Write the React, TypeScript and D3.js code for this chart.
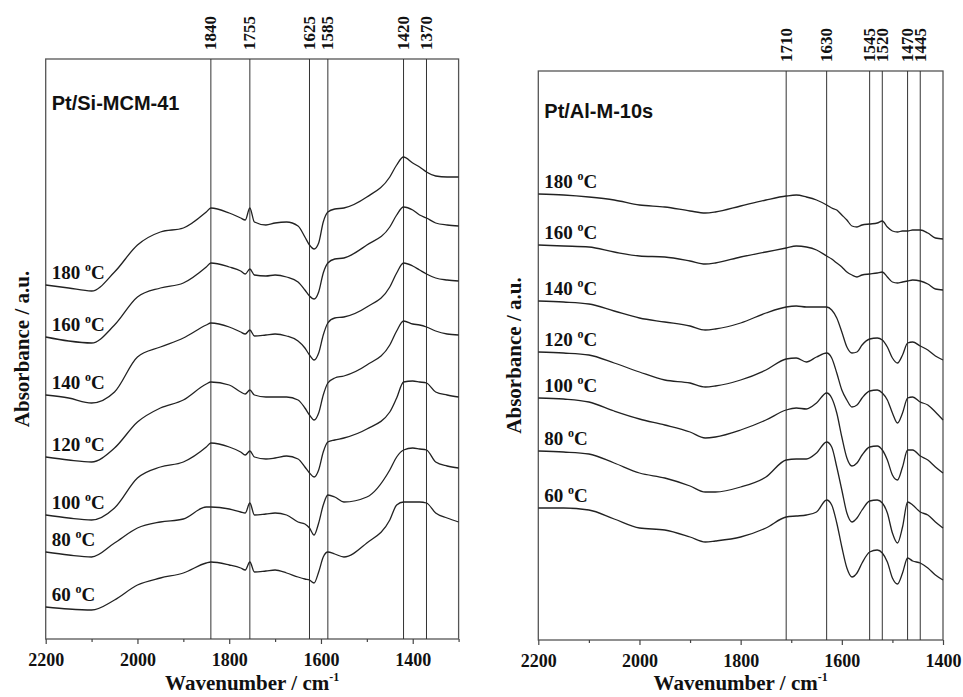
import * as d3 from "d3";
import { useRef, useEffect } from "react";

// Pt/Si-MCM-41 panel
const siWavenumbers = [2200, 2150, 2100, 2050, 2000, 1950, 1900, 1850, 1840, 1800, 1775, 1765, 1755, 1745, 1720, 1700, 1675, 1650, 1635, 1625, 1615, 1605, 1595, 1585, 1570, 1550, 1500, 1450, 1435, 1420, 1400, 1385, 1370, 1350, 1325, 1300];
const si180 = [3.54, 3.51, 3.48, 3.67, 3.94, 4.07, 4.11, 4.27, 4.31, 4.26, 4.21, 4.19, 4.31, 4.17, 4.14, 4.16, 4.17, 4.13, 4.02, 3.94, 3.90, 3.96, 4.17, 4.27, 4.30, 4.31, 4.42, 4.62, 4.74, 4.82, 4.76, 4.72, 4.67, 4.63, 4.62, 4.62];
const si160 = [3.02, 2.98, 2.96, 3.14, 3.42, 3.51, 3.56, 3.72, 3.76, 3.72, 3.68, 3.65, 3.70, 3.64, 3.63, 3.64, 3.62, 3.57, 3.49, 3.43, 3.40, 3.47, 3.66, 3.76, 3.80, 3.81, 3.94, 4.12, 4.24, 4.32, 4.29, 4.24, 4.21, 4.16, 4.14, 4.13];
const si140 = [2.44, 2.41, 2.36, 2.47, 2.82, 2.92, 3.01, 3.14, 3.16, 3.12, 3.07, 3.05, 3.09, 3.03, 3.04, 3.05, 3.03, 2.98, 2.91, 2.84, 2.79, 2.86, 3.04, 3.16, 3.21, 3.22, 3.32, 3.52, 3.66, 3.76, 3.73, 3.69, 3.65, 3.61, 3.59, 3.58];
const si120 = [1.82, 1.79, 1.77, 1.91, 2.17, 2.31, 2.39, 2.55, 2.57, 2.54, 2.47, 2.45, 2.49, 2.44, 2.42, 2.42, 2.42, 2.39, 2.31, 2.24, 2.19, 2.26, 2.44, 2.56, 2.61, 2.63, 2.74, 2.94, 3.08, 3.18, 3.15, 3.14, 3.12, 3.08, 3.05, 3.04];
const si100 = [1.24, 1.21, 1.19, 1.31, 1.61, 1.72, 1.77, 1.92, 1.96, 1.92, 1.87, 1.84, 1.88, 1.82, 1.80, 1.81, 1.83, 1.80, 1.72, 1.66, 1.62, 1.69, 1.87, 1.97, 1.99, 2.01, 2.10, 2.27, 2.41, 2.57, 2.58, 2.57, 2.56, 2.47, 2.44, 2.42];
const si80 = [0.87, 0.84, 0.82, 0.96, 1.11, 1.17, 1.20, 1.32, 1.32, 1.30, 1.27, 1.26, 1.36, 1.24, 1.25, 1.26, 1.24, 1.17, 1.15, 1.11, 1.04, 1.16, 1.34, 1.44, 1.42, 1.37, 1.42, 1.69, 1.82, 1.89, 1.91, 1.90, 1.89, 1.77, 1.73, 1.71];
const si60 = [0.32, 0.30, 0.29, 0.39, 0.54, 0.61, 0.66, 0.76, 0.77, 0.74, 0.71, 0.69, 0.77, 0.67, 0.68, 0.69, 0.66, 0.62, 0.60, 0.59, 0.56, 0.67, 0.82, 0.87, 0.85, 0.82, 0.96, 1.19, 1.34, 1.37, 1.37, 1.37, 1.36, 1.26, 1.21, 1.17];
const siPeaks = [1840, 1755, 1625, 1585, 1420, 1370];

// Pt/Al-M-10s panel
const alWavenumbers = [2200, 2150, 2100, 2050, 2000, 1950, 1900, 1870, 1850, 1800, 1750, 1710, 1690, 1670, 1650, 1630, 1620, 1610, 1600, 1590, 1580, 1570, 1560, 1545, 1530, 1520, 1510, 1500, 1490, 1480, 1470, 1460, 1445, 1430, 1415, 1400];
const al180 = [4.46, 4.45, 4.43, 4.40, 4.35, 4.33, 4.29, 4.27, 4.28, 4.34, 4.40, 4.44, 4.45, 4.43, 4.40, 4.35, 4.32, 4.30, 4.25, 4.20, 4.14, 4.13, 4.15, 4.16, 4.17, 4.19, 4.13, 4.09, 4.08, 4.09, 4.09, 4.10, 4.10, 4.07, 4.02, 4.01];
const al160 = [3.95, 3.94, 3.93, 3.88, 3.84, 3.83, 3.79, 3.76, 3.77, 3.83, 3.88, 3.92, 3.94, 3.93, 3.90, 3.84, 3.81, 3.77, 3.73, 3.68, 3.65, 3.63, 3.65, 3.66, 3.67, 3.68, 3.63, 3.58, 3.57, 3.58, 3.59, 3.60, 3.59, 3.56, 3.51, 3.50];
const al140 = [3.39, 3.38, 3.36, 3.29, 3.22, 3.18, 3.14, 3.10, 3.11, 3.17, 3.27, 3.33, 3.34, 3.33, 3.33, 3.33, 3.30, 3.22, 3.08, 2.93, 2.87, 2.88, 2.95, 3.01, 3.02, 3.00, 2.93, 2.82, 2.77, 2.85, 2.97, 2.98, 2.94, 2.90, 2.84, 2.80];
const al120 = [2.88, 2.87, 2.85, 2.77, 2.68, 2.60, 2.57, 2.53, 2.54, 2.60, 2.70, 2.81, 2.82, 2.78, 2.83, 2.87, 2.82, 2.67, 2.50, 2.40, 2.33, 2.35, 2.42, 2.49, 2.50, 2.47, 2.40, 2.27, 2.17, 2.27, 2.42, 2.43, 2.38, 2.35, 2.28, 2.20];
const al100 = [2.42, 2.41, 2.38, 2.29, 2.21, 2.15, 2.08, 2.02, 2.03, 2.10, 2.20, 2.30, 2.32, 2.31, 2.37, 2.47, 2.42, 2.27, 2.03, 1.82, 1.74, 1.77, 1.85, 1.93, 1.94, 1.90, 1.80, 1.65, 1.60, 1.73, 1.90, 1.90, 1.84, 1.80, 1.73, 1.67];
const al80 = [1.89, 1.88, 1.86, 1.77, 1.67, 1.62, 1.54, 1.48, 1.48, 1.53, 1.63, 1.80, 1.81, 1.81, 1.87, 1.98, 1.93, 1.73, 1.50, 1.27, 1.18, 1.22, 1.30, 1.39, 1.40, 1.37, 1.27, 1.07, 0.97, 1.13, 1.38, 1.35, 1.28, 1.25, 1.18, 1.12];
const al60 = [1.32, 1.32, 1.30, 1.21, 1.12, 1.10, 1.03, 0.98, 0.99, 1.03, 1.12, 1.23, 1.24, 1.25, 1.28, 1.40, 1.35, 1.17, 0.93, 0.72, 0.63, 0.67, 0.77, 0.88, 0.90, 0.87, 0.78, 0.62, 0.56, 0.67, 0.82, 0.79, 0.77, 0.72, 0.65, 0.60];
const alPeaks = [1710, 1630, 1545, 1520, 1470, 1445];

const temperatures = ["180", "160", "140", "120", "100", "80", "60"];

const serif = "'Liberation Serif', 'Times New Roman', serif";
const sans = "'Liberation Sans', Arial, sans-serif";

// push crowded peak labels apart so rotated numbers do not overlap
function spreadLabels(xs, minGap) {
  const out = xs.slice();
  for (let pass = 0; pass < 5; pass++) {
    for (let i = 1; i < out.length; i++) {
      const gap = out[i] - out[i - 1];
      if (gap < minGap) {
        const push = (minGap - gap) / 2;
        out[i - 1] -= push;
        out[i] += push;
      }
    }
  }
  return out;
}

function Panel({ left, right, top, bottom, xDomain, yMax, wavenumbers, series, peaks, title, titleY }) {
  const gMajor = useRef(null);
  const gMinor = useRef(null);
  const x = d3.scaleLinear(xDomain, [left, right]);
  const y = d3.scaleLinear([0, yMax], [bottom, top]);
  const line = d3.line().x((d, i) => x(wavenumbers[i])).y((d) => y(d)).curve(d3.curveMonotoneX);
  const labelX = spreadLabels(peaks.map((p) => x(p)), 13.5);

  useEffect(() => {
    const major = d3.axisBottom(x)
      .tickValues(d3.range(xDomain[0], xDomain[1] - 1, -200))
      .tickFormat(d3.format("d"))
      .tickSize(5)
      .tickPadding(9);
    const g = d3.select(gMajor.current).call(major);
    g.select(".domain").remove();
    g.attr("font-family", serif).attr("font-size", 18).attr("font-weight", "bold");
    g.selectAll("line").attr("stroke", "#444").attr("stroke-width", 1.2);
    g.selectAll("text").attr("fill", "#111");

    const minor = d3.axisBottom(x)
      .tickValues(d3.range(xDomain[0] - 100, xDomain[1] - 1, -200))
      .tickFormat(() => "")
      .tickSize(3);
    const m = d3.select(gMinor.current).call(minor);
    m.select(".domain").remove();
    m.selectAll("line").attr("stroke", "#444").attr("stroke-width", 1.2);
  }, [x]);

  return (
    <g>
      <rect x={left} y={top} width={right - left} height={bottom - top} fill="none" stroke="#555" strokeWidth={1.3} />
      {peaks.map((p, i) => (
        <g key={p}>
          <line x1={x(p)} x2={x(p)} y1={top} y2={bottom} stroke="#333" strokeWidth={1} />
          <text
            transform={`translate(${labelX[i]},${top - 9}) rotate(-90)`}
            dy="0.33em"
            fontFamily={serif}
            fontSize={17}
            fontWeight="bold"
            fill="#111"
          >
            {p}
          </text>
        </g>
      ))}
      <g fill="none" stroke="#222" strokeWidth={1.3}>
        {series.map((s, i) => (
          <path key={i} d={line(s)} />
        ))}
      </g>
      {series.map((s, i) => (
        <text key={i} x={left + 6} y={y(s[0]) - 6} fontFamily={serif} fontSize={19} fontWeight="bold" fill="#111">
          {temperatures[i] + " "}
          <tspan dy={-8} fontSize={12}>o</tspan>
          <tspan dy={8}>C</tspan>
        </text>
      ))}
      <text x={left + 6} y={titleY} fontFamily={sans} fontSize={20} fontWeight="bold" fill="#111">
        {title}
      </text>
      <g ref={gMajor} transform={`translate(0,${bottom})`} />
      <g ref={gMinor} transform={`translate(0,${bottom})`} />
      <text x={(left + right) / 2} y={690} textAnchor="middle" fontFamily={serif} fontSize={21} fontWeight="bold" fill="#111">
        Wavenumber / cm
        <tspan dy={-9} fontSize={12}>-1</tspan>
      </text>
      <text
        transform={`translate(${left - 17},${(top + bottom) / 2}) rotate(-90)`}
        textAnchor="middle"
        fontFamily={serif}
        fontSize={21}
        fontWeight="bold"
        fill="#111"
      >
        Absorbance / a.u.
      </text>
    </g>
  );
}

export default function App() {
  return (
    <svg width={963} height={697} style={{ position: "absolute", left: 0, top: 0, background: "#fff" }}>
      <Panel
        left={45.7}
        right={458.6}
        top={59}
        bottom={639}
        xDomain={[2200, 1300]}
        yMax={5.8}
        wavenumbers={siWavenumbers}
        series={[si180, si160, si140, si120, si100, si80, si60]}
        peaks={siPeaks}
        title="Pt/Si-MCM-41"
        titleY={110}
      />
      <Panel
        left={538.3}
        right={943}
        top={71}
        bottom={640}
        xDomain={[2200, 1400]}
        yMax={5.69}
        wavenumbers={alWavenumbers}
        series={[al180, al160, al140, al120, al100, al80, al60]}
        peaks={alPeaks}
        title="Pt/Al-M-10s"
        titleY={118}
      />
    </svg>
  );
}
